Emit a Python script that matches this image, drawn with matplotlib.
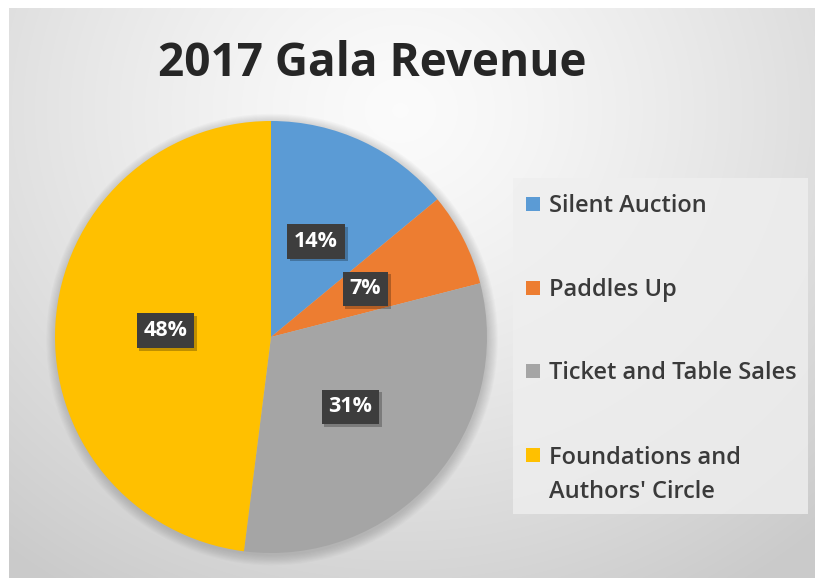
import numpy as np
import matplotlib
matplotlib.use("Agg")
import matplotlib.pyplot as plt
from matplotlib.patches import Rectangle, Circle
import matplotlib.patheffects as pe

# ---- data ----
title = "2017 Gala Revenue"
categories = ["Silent Auction", "Paddles Up", "Ticket and Table Sales",
              "Foundations and\nAuthors' Circle"]
values = [14, 7, 31, 48]
colors = ["#5B9BD5", "#ED7D31", "#A5A5A5", "#FFC000"]

FONT = "Open Sans"
W, H = 815, 578
fig = plt.figure(figsize=(W / 100, H / 100), dpi=100)
fig.patch.set_facecolor("white")

# ---- background gradient panel ----
bg = fig.add_axes([9 / W, 0, 1 - 9 / W, 1 - 8 / H])
bg.set_axis_off()
yy, xx = np.mgrid[8:578, 9:815]
r = np.sqrt(((xx - 400) / 520.0) ** 2 + ((yy - 110) / 470.0) ** 2)
v = 0.985 - 0.15 * np.clip(r, 0, 1.2) ** 1.3
img = np.dstack([v, v, v])
bg.imshow(img, aspect="auto", extent=[0, 1, 0, 1], origin="upper")
bg.set_xlim(0, 1)
bg.set_ylim(0, 1)

# ---- title ----
fig.text(372 / W, 1 - 63 / H, title, ha="center", va="center",
         fontsize=33, fontweight="bold", color="#262626", family=FONT)

# ---- pie ----
cx, cy, R = 271, 337, 216
ax = fig.add_axes([(cx - R) / W, (H - cy - R) / H, 2 * R / W, 2 * R / H])
ax.set_axis_off()
# soft shadow
for i in range(10):
    ax.add_patch(Circle((0.005, -0.012), 1.0 + 0.005 * i, color="#6a6a6a",
                        alpha=0.035, lw=0, zorder=0, clip_on=False))
wedges, texts, autotexts = ax.pie(
    values, colors=colors, startangle=90, counterclock=False, radius=1,
    autopct=lambda p: f"{p:.0f}%", pctdistance=0.49,
    wedgeprops=dict(linewidth=0),
    textprops=dict(color="white", fontsize=15.5, fontweight="bold", family=FONT))
for t in autotexts:
    t.set_bbox(dict(boxstyle="square,pad=0.32", fc="#3d3d3d", ec="none"))
    t.get_bbox_patch().set_path_effects(
        [pe.SimplePatchShadow(offset=(2, -2), shadow_rgbFace="#000000", alpha=0.25),
         pe.Normal()])
for w_ in wedges:
    w_.set_zorder(2)
ax.set_xlim(-1, 1)
ax.set_ylim(-1, 1)

# ---- legend ----
fig.add_artist(Rectangle((513 / W, 1 - 514 / H), (808 - 513) / W, (514 - 178) / H,
                         transform=fig.transFigure, fc="#efefef", ec="none",
                         alpha=0.8, zorder=1))
rows_y = [204, 288, 371, 455]
LINE_PX = 35
for lab, col, ry in zip(categories, colors, rows_y):
    fig.add_artist(Rectangle((526 / W, 1 - (ry + 7) / H), 14 / W, 14 / H,
                             transform=fig.transFigure, fc=col, ec="none", zorder=2))
    nl = lab.count("\n")
    fig.text(549 / W, 1 - (ry + 8 + LINE_PX * nl) / H, lab, ha="left", va="baseline",
             fontsize=17, fontweight="semibold", color="#3a3a3a", family=FONT,
             linespacing=1.58, zorder=3)

fig.savefig("out.png", dpi=100, facecolor="white")
